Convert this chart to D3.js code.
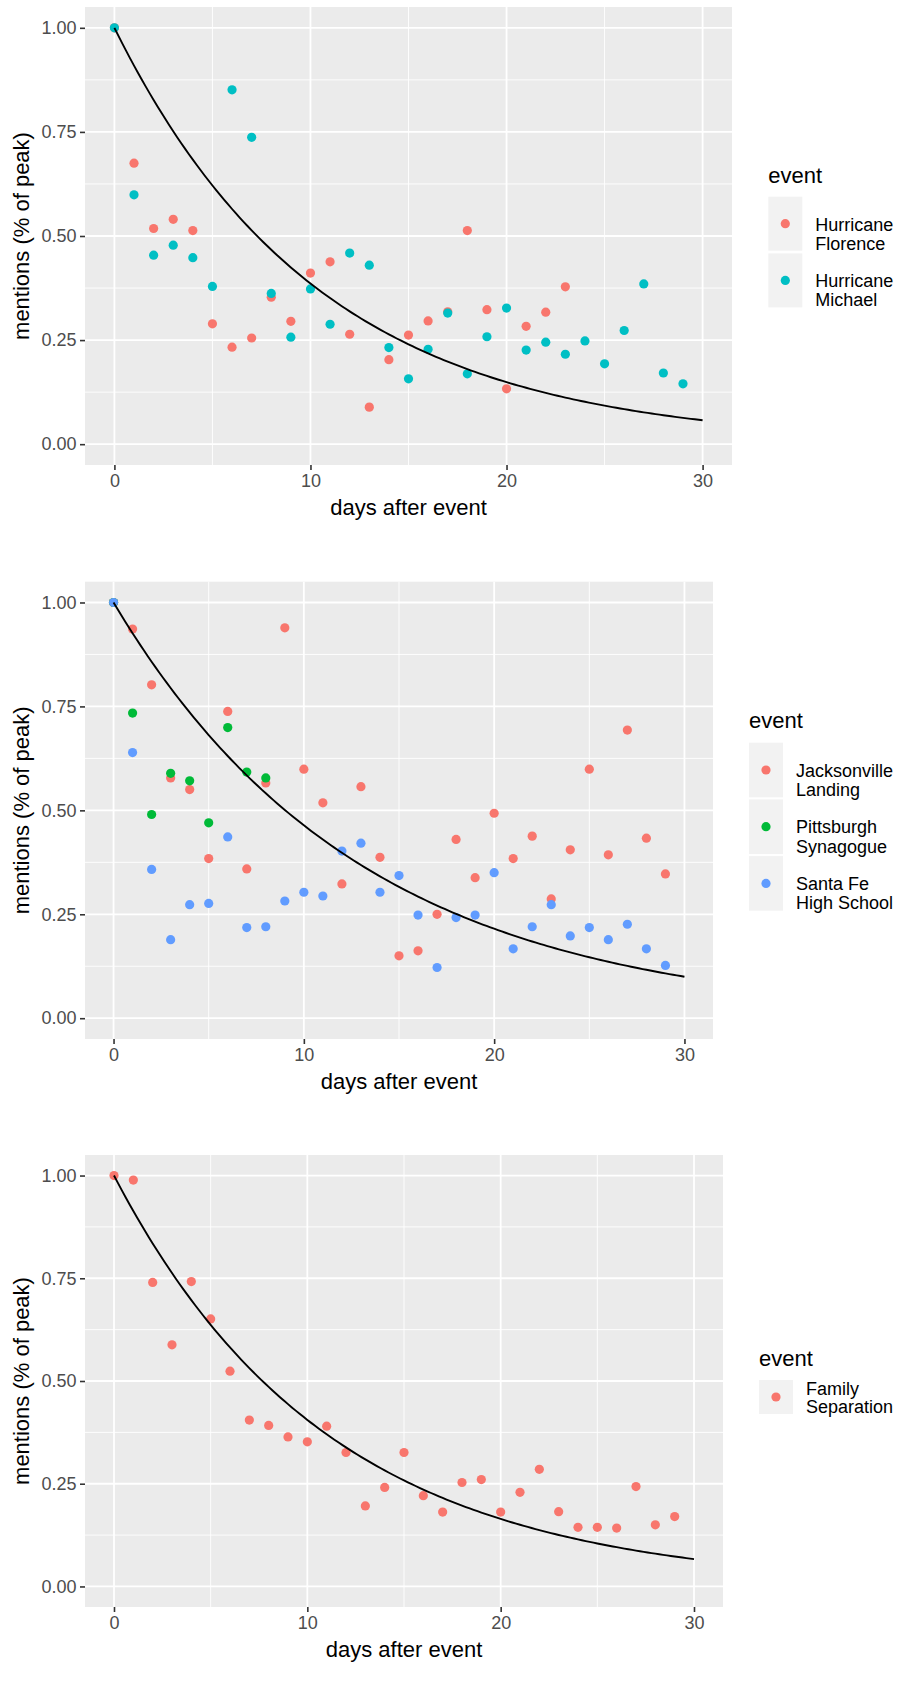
<!DOCTYPE html>
<html><head><meta charset="utf-8">
<script src="https://cdn.jsdelivr.net/npm/d3@7"></script>
<style>
body{margin:0;background:#fff}
text{font-family:"Liberation Sans",Arial,Helvetica,sans-serif}
</style>
</head><body>
<svg id="c" width="897" height="1708"></svg>
<script>
// ---- data ----
const days = [0,1,2,3,4,5,6,7,8,9,10,11,12,13,14,15,16,17,18,19,20,21,22,23,24,25,26,27,28,29];
const xTicks = [0,10,20,30];
const xMinor = [5,15,25];
const yTicks = [0,0.25,0.5,0.75,1];
const yTickLabels = ["0.00","0.25","0.50","0.75","1.00"];
const yMinor = [0.125,0.375,0.625,0.875];

const florence = [1.0,0.675,0.518,0.540,0.513,0.289,0.233,0.255,0.353,0.295,0.411,0.438,0.264,0.089,0.203,0.262,0.296,0.318,0.513,0.323,0.133,0.283,0.317,0.378];
const michael = [1.0,0.599,0.454,0.478,0.448,0.379,0.851,0.737,0.362,0.257,0.373,0.288,0.459,0.430,0.232,0.157,0.228,0.315,0.169,0.258,0.327,0.226,0.245,0.216,0.248,0.193,0.273,0.385,0.171,0.145];
const jacksonville = [1.0,0.936,0.802,0.578,0.550,0.384,0.738,0.359,0.566,0.939,0.599,0.518,0.323,0.557,0.387,0.150,0.162,0.250,0.430,0.338,0.493,0.384,0.438,0.287,0.405,0.599,0.393,0.693,0.433,0.347];
const pittsburgh = [1.0,0.734,0.490,0.589,0.571,0.470,0.699,0.592,0.578];
const santaFe = [1.0,0.639,0.358,0.189,0.273,0.276,0.436,0.218,0.220,0.282,0.303,0.294,0.402,0.421,0.303,0.343,0.248,0.122,0.242,0.248,0.350,0.167,0.220,0.273,0.198,0.218,0.189,0.226,0.167,0.127];
const familySep = [1.0,0.989,0.740,0.588,0.742,0.651,0.524,0.405,0.392,0.364,0.352,0.390,0.326,0.196,0.241,0.326,0.221,0.181,0.253,0.260,0.181,0.229,0.285,0.182,0.144,0.144,0.142,0.243,0.150,0.170];

// fitted exponential decay rates
const fitRates = [0.0952, 0.0768, 0.0903];

const panels = [
  {series:[{name:["Hurricane","Florence"],color:"#F8766D",values:florence},
           {name:["Hurricane","Michael"],color:"#00BFC4",values:michael}],
   rate:fitRates[0],
   box:{left:85,right:732,top:7,bottom:465},
   leg:{x:768.3,titleY:182.7,keyTop:196.7,keyH:54,step:56.7,txt:[7,26]}},
  {series:[{name:["Jacksonville","Landing"],color:"#F8766D",values:jacksonville},
           {name:["Pittsburgh","Synagogue"],color:"#00BA38",values:pittsburgh},
           {name:["Santa Fe","High School"],color:"#619CFF",values:santaFe}],
   rate:fitRates[1],
   box:{left:85,right:713,top:581.7,bottom:1039},
   leg:{x:749,titleY:728.3,keyTop:742.7,keyH:54.6,step:56.7,txt:[6.7,26]}},
  {series:[{name:["Family","Separation"],color:"#F8766D",values:familySep}],
   rate:fitRates[2],
   box:{left:85,right:723,top:1155,bottom:1607},
   leg:{x:759,titleY:1366,keyTop:1380,keyH:34,step:36,txt:[-2,16.3]}}
];

const svg = d3.select("#c");
svg.append("rect").attr("width",897).attr("height",1708).attr("fill","#fff");

panels.forEach(p=>{
  const b = p.box;
  const x = d3.scaleLinear().domain([-1.5,31.5]).range([b.left,b.right]);
  const y = d3.scaleLinear().domain([-0.05,1.05]).range([b.bottom,b.top]);
  const g = svg.append("g");
  g.append("rect").attr("x",b.left).attr("y",b.top).attr("width",b.right-b.left).attr("height",b.bottom-b.top).attr("fill","#EBEBEB");
  // minor grid
  g.selectAll(".mx").data(xMinor).enter().append("line")
    .attr("x1",d=>x(d)).attr("x2",d=>x(d)).attr("y1",b.top).attr("y2",b.bottom)
    .attr("stroke","#fff").attr("stroke-width",0.9);
  g.selectAll(".my").data(yMinor).enter().append("line")
    .attr("y1",d=>y(d)).attr("y2",d=>y(d)).attr("x1",b.left).attr("x2",b.right)
    .attr("stroke","#fff").attr("stroke-width",0.9);
  // major grid
  g.selectAll(".Mx").data(xTicks).enter().append("line")
    .attr("x1",d=>x(d)).attr("x2",d=>x(d)).attr("y1",b.top).attr("y2",b.bottom)
    .attr("stroke","#fff").attr("stroke-width",1.8);
  g.selectAll(".My").data(yTicks).enter().append("line")
    .attr("y1",d=>y(d)).attr("y2",d=>y(d)).attr("x1",b.left).attr("x2",b.right)
    .attr("stroke","#fff").attr("stroke-width",1.8);

  // axes
  const xa = g.append("g").attr("transform",`translate(0,${b.bottom})`)
    .call(d3.axisBottom(x).tickValues(xTicks).tickSize(5).tickPadding(4.7).tickFormat(d3.format("d")));
  const ya = g.append("g").attr("transform",`translate(${b.left},0)`)
    .call(d3.axisLeft(y).tickValues(yTicks).tickSize(5).tickPadding(3.5).tickFormat((d,i)=>yTickLabels[i]));
  [xa,ya].forEach(a=>{
    a.select(".domain").remove();
    a.selectAll(".tick line").attr("stroke","#333333").attr("stroke-width",1.6);
    a.selectAll(".tick text").attr("fill","#4D4D4D").style("font-size","18px")
      .style("font-family","'Liberation Sans',Arial,sans-serif");
  });

  // axis titles
  g.append("text").attr("x",(b.left+b.right)/2).attr("y",b.bottom+49.5)
    .attr("text-anchor","middle").style("font-size","22px").attr("fill","#000").text("days after event");
  g.append("text").attr("transform",`translate(29,${(b.top+b.bottom)/2}) rotate(-90)`)
    .attr("text-anchor","middle").style("font-size","22px").attr("fill","#000").text("mentions (% of peak)");

  // points
  p.series.forEach(s=>{
    g.selectAll(null).data(s.values).enter().append("circle")
      .attr("cx",(d,i)=>x(days[i])).attr("cy",d=>y(d)).attr("r",4.6).attr("fill",s.color);
  });

  // fit curve
  const grid = d3.range(0,30.0001,0.2);
  g.append("path").datum(grid)
    .attr("d",d3.line().x(d=>x(d)).y(d=>y(Math.exp(-p.rate*d))))
    .attr("fill","none").attr("stroke","#000").attr("stroke-width",1.9);

  // legend
  const L = p.leg;
  g.append("text").attr("x",L.x).attr("y",L.titleY).style("font-size","22px").attr("fill","#000").text("event");
  p.series.forEach((s,i)=>{
    const top = L.keyTop + i*L.step;
    const cy = top + L.keyH/2;
    g.append("rect").attr("x",L.x).attr("y",top).attr("width",34).attr("height",L.keyH).attr("fill","#F2F2F2");
    g.append("circle").attr("cx",L.x+17).attr("cy",cy).attr("r",4.6).attr("fill",s.color);
    s.name.forEach((ln,j)=>{
      g.append("text").attr("x",L.x+47).attr("y",cy+L.txt[j]).style("font-size","18px").attr("fill","#000").text(ln);
    });
  });
});
</script>
</body></html>
